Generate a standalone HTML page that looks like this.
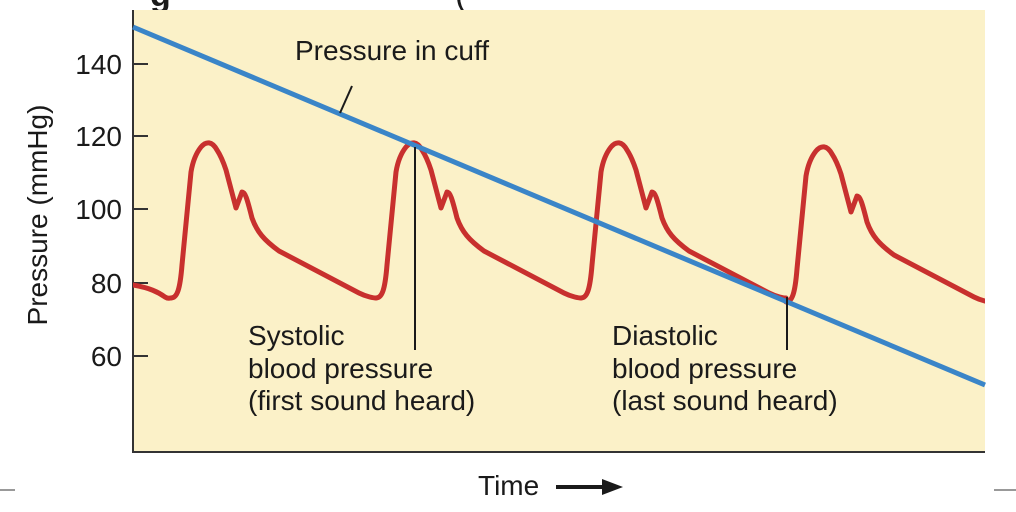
<!DOCTYPE html>
<html><head><meta charset="utf-8"><style>
html,body{margin:0;padding:0;background:#fff;width:1016px;height:512px;overflow:hidden}
svg{display:block}
text{font-family:"Liberation Sans",sans-serif;fill:#1a1a1a}
</style></head><body>
<svg width="1016" height="512" viewBox="0 0 1016 512">
<text x="150" y="6" font-size="34" font-weight="bold">g</text>
<text x="455" y="6" font-size="34">(</text>
<defs>
<clipPath id="pc"><rect x="133" y="10" width="852" height="442"/></clipPath>
<path id="cyc" d="M-38,298 C-32,298 -29,290 -27,265 L-18,172 C-16,160 -12,152 -8,147 C-3,141 3,141 8,150 C12,156 15,164 17,170 L27,208 L33,192 C36,192 38,198 43,218 C48,232 55,240 70,251 L150,293 C158,297 165,298 167,298"/>
</defs>
<rect x="133" y="10" width="852" height="442" fill="#fbf1c8"/>
<line x1="133" y1="10" x2="133" y2="453" stroke="#333" stroke-width="2"/>
<line x1="132" y1="452" x2="985" y2="452" stroke="#333" stroke-width="2"/>
<g stroke="#333" stroke-width="2">
<line x1="133" y1="64" x2="148" y2="64"/>
<line x1="133" y1="136" x2="148" y2="136"/>
<line x1="133" y1="209" x2="148" y2="209"/>
<line x1="133" y1="283" x2="148" y2="283"/>
<line x1="133" y1="356" x2="148" y2="356"/>
</g>
<g font-size="28" text-anchor="end">
<text x="122" y="74">140</text>
<text x="122" y="146">120</text>
<text x="122" y="219">100</text>
<text x="122" y="293">80</text>
<text x="122" y="366">60</text>
</g>
<text transform="translate(47,215) rotate(-90)" font-size="28" text-anchor="middle">Pressure (mmHg)</text>
<g clip-path="url(#pc)" fill="none" stroke="#c8302e" stroke-width="5" stroke-linejoin="round" stroke-linecap="round">
<path d="M133,285 C150,288 158,292 165,297 C168,299 170,298 171,298"/>
<use href="#cyc" x="209" y="0"/>
<use href="#cyc" x="414" y="0"/>
<use href="#cyc" x="619" y="0"/>
<use href="#cyc" x="824" y="4"/>
</g>
<line x1="133" y1="27" x2="985" y2="385" stroke="#3a85c8" stroke-width="5"/>
<line x1="340" y1="113" x2="352" y2="86" stroke="#1a1a1a" stroke-width="2"/>
<text x="295" y="60" font-size="28">Pressure in cuff</text>
<line x1="415" y1="147" x2="415" y2="350" stroke="#1a1a1a" stroke-width="2"/>
<line x1="787" y1="297" x2="787" y2="350" stroke="#1a1a1a" stroke-width="2"/>
<g font-size="28">
<text x="248" y="345">Systolic</text>
<text x="248" y="378">blood pressure</text>
<text x="248" y="410">(first sound heard)</text>
<text x="612" y="345">Diastolic</text>
<text x="612" y="378">blood pressure</text>
<text x="612" y="410">(last sound heard)</text>
</g>
<text x="478" y="495" font-size="28">Time</text>
<line x1="556" y1="487" x2="605" y2="487" stroke="#1a1a1a" stroke-width="4"/>
<polygon points="602,479 623,487 602,495" fill="#1a1a1a"/>
<line x1="0" y1="490" x2="15" y2="490" stroke="#999" stroke-width="2"/>
<line x1="994" y1="490" x2="1016" y2="490" stroke="#999" stroke-width="2"/>
</svg>
</body></html>
